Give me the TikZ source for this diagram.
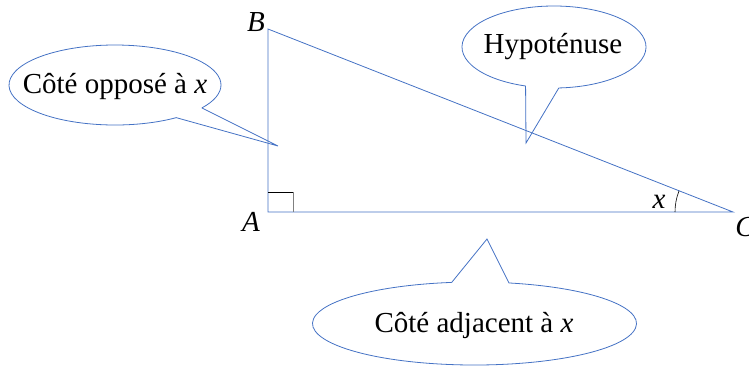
\documentclass[tikz,border=0pt]{standalone}
\usepackage{fontspec}
\setmainfont{Liberation Serif}
\usetikzlibrary{calc}
\begin{document}
\begin{tikzpicture}[x=1pt,y=-1pt,
  side/.style={draw={rgb,255:red,68;green,114;blue,196},line width=0.8pt},
  bubble/.style={draw={rgb,255:red,68;green,114;blue,196},line width=0.8pt,line join=miter},
  txt/.style={font=\fontsize{29}{34}\selectfont,inner sep=0pt},
  lbl/.style={font=\fontsize{29}{34}\selectfont\itshape,inner sep=0pt}]
\useasboundingbox (0,0) rectangle (749,368);
% triangle
\coordinate (A) at (268,212);
\coordinate (B) at (268,29);
\coordinate (C) at (733,212);
\draw[side] (A) -- (B) -- (C) -- cycle;
\draw[line width=0.8pt,black] (268,192) -- (293,192);
\draw[line width=0.8pt,gray] (293,192) -- (293,212);
\draw[line width=0.6pt,black] ([shift={(180:58)}]C) arc[start angle=180,end angle=201.5,radius=58];
\node[lbl] (lB) at (256,22) {B};
\node[lbl] (lA) at (251,222) {A};
\node[lbl] (lx) at (659,202) {x};
\node[lbl] (lC) at (745,227) {C};
% callout 1
\coordinate (t1) at (278,146);
\draw[bubble] ($(115,85)+(35:106 and 40)$) -- (t1) -- ($(115,85)+(54.7:106 and 40)$)
  arc[start angle=54.7,end angle=395,x radius=106,y radius=40];
\node[txt] (n1) at (115,86) {Côté opposé à \textit{x}};
% callout 2
\coordinate (t2) at (526,143);
\draw[bubble] ($(554,47)+(87:92 and 41)$) -- (t2) -- ($(554,47)+(108:92 and 41)$)
  arc[start angle=108,end angle=447,x radius=92,y radius=41];
\node[txt] (n2) at (553,47) {Hypoténuse};
% callout 3
\coordinate (t3) at (487,239);
\draw[bubble] ($(474.5,323.5)+(261.9:162 and 41.5)$) -- (t3) -- ($(474.5,323.5)+(282.3:162 and 41.5)$)
  arc[start angle=282.3,end angle=621.9,x radius=162,y radius=41.5];
\node[txt] (n3) at (474,325) {Côté adjacent à \textit{x}};
\end{tikzpicture}
\end{document}
